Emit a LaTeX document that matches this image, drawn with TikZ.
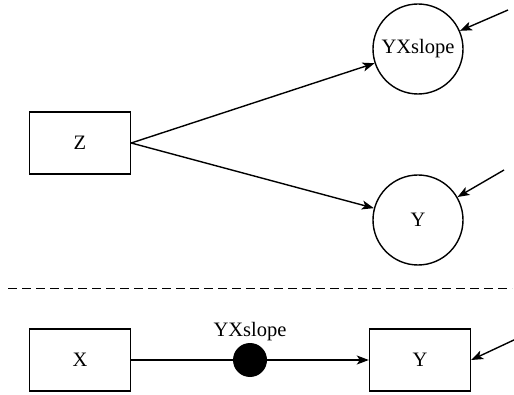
\documentclass[tikz,border=0pt]{standalone}
\usepackage{fontspec}
\setmainfont{Liberation Serif}
\usetikzlibrary{arrows.meta}
\begin{document}
\begin{tikzpicture}[x=1pt,y=-1pt,
  every node/.style={font=\fontsize{20.5}{24}\selectfont},
  box/.style={draw, line width=1.4pt, minimum width=101pt, minimum height=62pt, inner sep=0pt},
  latent/.style={draw, circle, line width=1.4pt, minimum size=90pt, inner sep=0pt},
  dot/.style={circle, fill=black, minimum size=34pt, inner sep=0pt},
  link/.style={line width=1.4pt, -{Stealth[length=12pt,width=9pt,inset=3pt]}},
  plain/.style={line width=1.4pt}]
\useasboundingbox (0,0) rectangle (514,395);
% upper panel: Z predicting the slope and the outcome
\node[box] (z) at (80,143) {Z};
\node[latent] (slope) at (418,49) {YXslope};
\node[latent] (yc) at (418,220) {Y};
\coordinate (es) at (508,10);
\coordinate (ey) at (504,170);
\draw[link] (z.east) -- (slope);
\draw[link] (z.east) -- (yc);
\draw[link] (es) -- (slope);
\draw[link] (ey) -- (yc);
% separator
\draw[line width=1pt, dash pattern=on 9pt off 5pt] (8,289) -- (512,289);
% lower panel: random slope of X on Y
\node[box] (x) at (80,360) {X};
\node[dot] (d) at (250,360) {};
\node (dl) at (250,332) {YXslope};
\node[box] (yb) at (420,360) {Y};
\coordinate (eb) at (516,339);
\draw[plain] (x) -- (d);
\draw[link] (d) -- (yb);
\draw[link] (eb) -- (yb.east);
\end{tikzpicture}
\end{document}
